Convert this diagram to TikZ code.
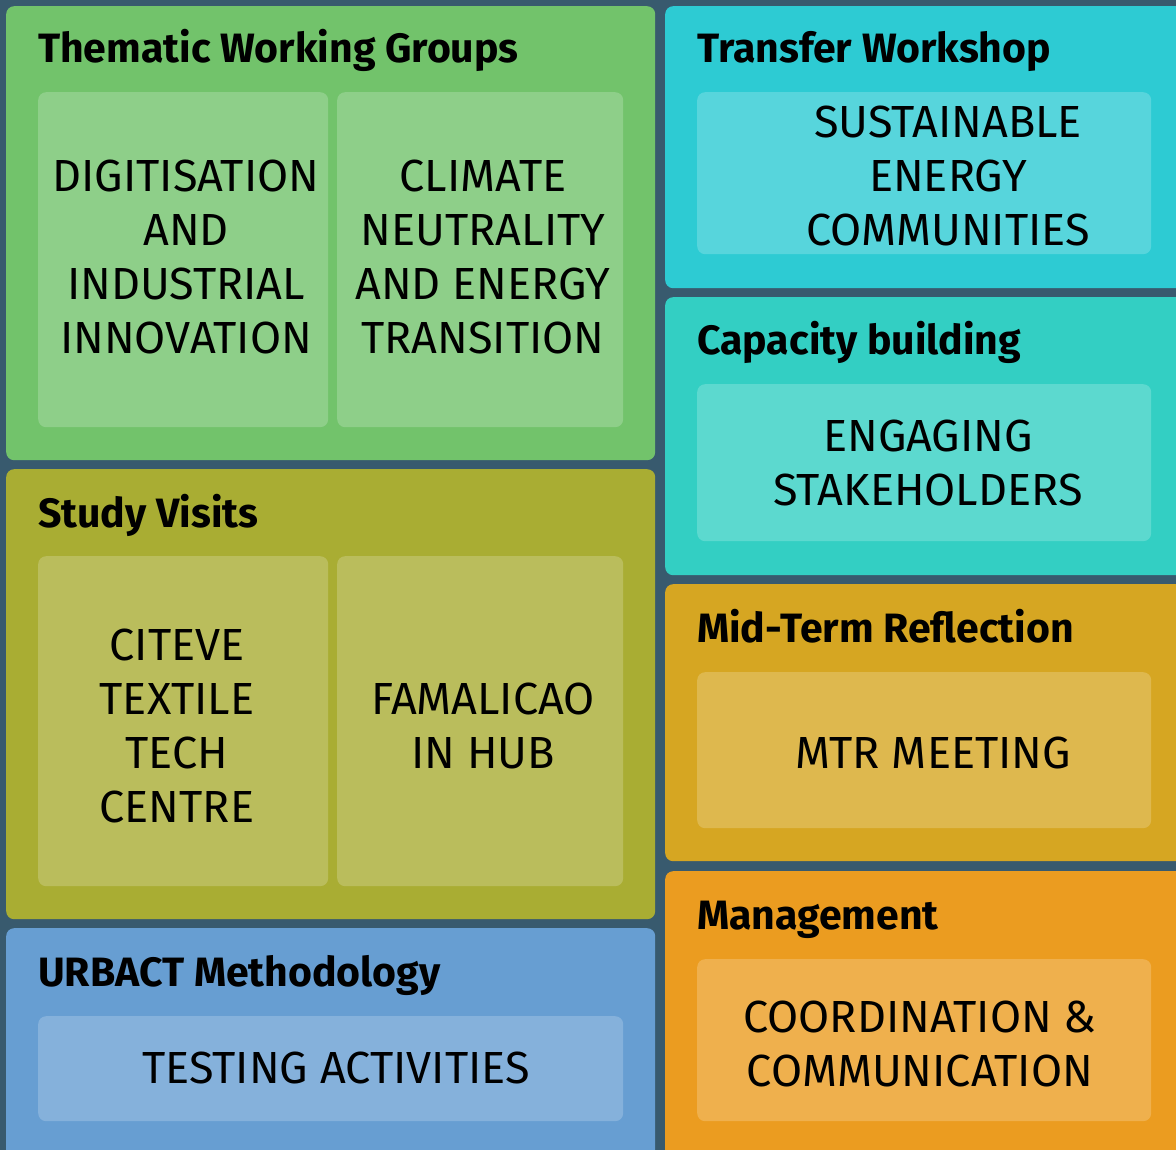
\documentclass[tikz,border=0pt]{standalone}
\usepackage{fontspec}
\setmainfont{Fira Sans}
\newfontfamily\titlefont{Fira Sans}
\newfontfamily\labelfont{Fira Sans}
\usepackage{xcolor}
\definecolor{bgslate}{HTML}{385A6E}
\definecolor{twgreen}{HTML}{72C36B}
\definecolor{svolive}{HTML}{A9AD33}
\definecolor{urbblue}{HTML}{679ED2}
\definecolor{twcyan}{HTML}{2DCBD3}
\definecolor{cbteal}{HTML}{33CFC3}
\definecolor{mtrgold}{HTML}{D6A622}
\definecolor{mgmtorange}{HTML}{EB9C20}

\begin{document}
\begin{tikzpicture}[
  x=1pt, y=-1pt,
  tile/.style={rectangle, rounded corners=8pt, anchor=north west, inner sep=0pt},
  panel/.style={rectangle, rounded corners=8pt, anchor=north west, inner sep=0pt},
  heading/.style={anchor=base west, inner sep=0pt,
                  font=\titlefont\bfseries\fontsize{41}{49}\selectfont},
  label/.style={align=center, inner sep=0pt,
                font=\labelfont\fontsize{45}{54}\selectfont}
]
\clip (0,0) rectangle (1176,1150);
\fill[bgslate] (0,0) rectangle (1176,1150);

% left column
\node[tile, fill=twgreen, minimum width=649pt, minimum height=454pt] (twg) at (6,6) {};
\node[tile, fill=svolive, minimum width=649pt, minimum height=450pt] (sv) at (6,469) {};
\node[tile, fill=urbblue, minimum width=649pt, minimum height=240pt] (urb) at (6,928) {};
% right column
\node[tile, fill=twcyan, minimum width=540pt, minimum height=282pt] (tw) at (665,6) {};
\node[tile, fill=cbteal, minimum width=540pt, minimum height=278pt] (cb) at (665,297) {};
\node[tile, fill=mtrgold, minimum width=540pt, minimum height=277pt] (mtr) at (665,584) {};
\node[tile, fill=mgmtorange, minimum width=540pt, minimum height=300pt] (mgmt) at (665,871) {};

% headings
\node[heading] (twgT) at (38,63) {Thematic Working Groups};
\node[heading] (svT) at (38,527) {Study Visits};
\node[heading] (urbT) at (38,986) {URBACT Methodology};
\node[heading] (twT) at (697,63) {Transfer Workshop};
\node[heading] (cbT) at (697,355) {Capacity building};
\node[heading] (mtrT) at (697,642) {Mid-Term Reflection};
\node[heading] (mgmtT) at (697,929) {Management};

% inner panels
\node[panel, fill=twgreen!80!white, minimum width=290pt, minimum height=335pt] (twgA) at (38,92) {};
\node[panel, fill=twgreen!80!white, minimum width=286pt, minimum height=335pt] (twgB) at (337,92) {};
\node[panel, fill=svolive!80!white, minimum width=290pt, minimum height=330pt] (svA) at (38,556) {};
\node[panel, fill=svolive!80!white, minimum width=286pt, minimum height=330pt] (svB) at (337,556) {};
\node[panel, fill=urbblue!80!white, minimum width=585pt, minimum height=105pt] (urbA) at (38,1016) {};
\node[panel, fill=twcyan!80!white, minimum width=454pt, minimum height=162pt] (twA) at (697,92) {};
\node[panel, fill=cbteal!80!white, minimum width=454pt, minimum height=157pt] (cbA) at (697,384) {};
\node[panel, fill=mtrgold!80!white, minimum width=454pt, minimum height=156pt] (mtrA) at (697,672) {};
\node[panel, fill=mgmtorange!80!white, minimum width=454pt, minimum height=162pt] (mgmtA) at (697,959) {};

% labels
\node[label] (twgAL) at (186,257) {DIGITISATION\\AND\\INDUSTRIAL\\INNOVATION};
\node[label] (twgBL) at (483,257) {CLIMATE\\NEUTRALITY\\AND ENERGY\\TRANSITION};
\node[label] (svAL) at (177,726) {CITEVE\\TEXTILE\\TECH\\CENTRE};
\node[label] (svBL) at (483,726) {FAMALICAO\\IN HUB};
\node[label] (urbAL) at (336,1068) {TESTING ACTIVITIES};
\node[label] (twAL) at (948,176) {SUSTAINABLE\\ENERGY\\COMMUNITIES};
\node[label] (cbAL) at (928,463) {ENGAGING\\STAKEHOLDERS};
\node[label] (mtrAL) at (933,753) {MTR MEETING};
\node[label] (mgmtAL) at (920,1044) {COORDINATION \&\\COMMUNICATION};
\end{tikzpicture}
\end{document}
